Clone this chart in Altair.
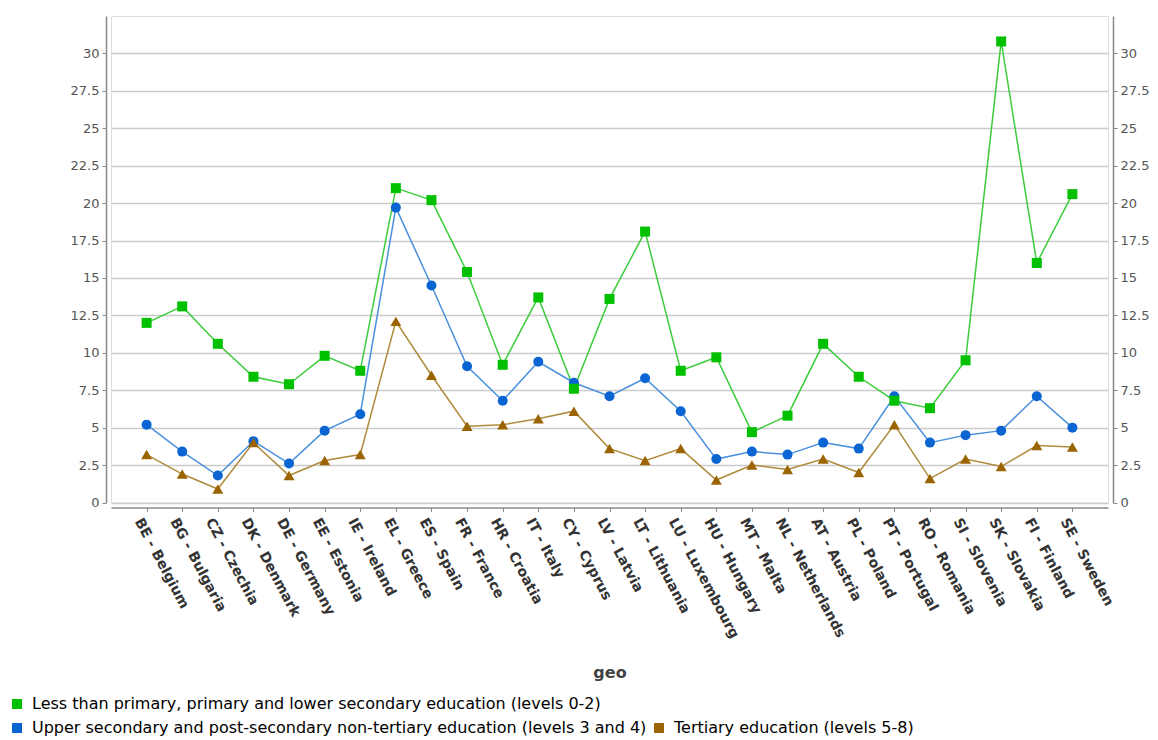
import altair as alt
import pandas as pd

countries = ["BE - Belgium", "BG - Bulgaria", "CZ - Czechia", "DK - Denmark", "DE - Germany",
             "EE - Estonia", "IE - Ireland", "EL - Greece", "ES - Spain", "FR - France",
             "HR - Croatia", "IT - Italy", "CY - Cyprus", "LV - Latvia", "LT - Lithuania",
             "LU - Luxembourg", "HU - Hungary", "MT - Malta", "NL - Netherlands", "AT - Austria",
             "PL - Poland", "PT - Portugal", "RO - Romania", "SI - Slovenia", "SK - Slovakia",
             "FI - Finland", "SE - Sweden"]

series_names = [
    "Less than primary, primary and lower secondary education (levels 0-2)",
    "Upper secondary and post-secondary non-tertiary education (levels 3 and 4)",
    "Tertiary education (levels 5-8)",
]

low = [12.0, 13.1, 10.6, 8.4, 7.9, 9.8, 8.8, 21.0, 20.2, 15.4, 9.2, 13.7, 7.6, 13.6, 18.1,
       8.8, 9.7, 4.7, 5.8, 10.6, 8.4, 6.8, 6.3, 9.5, 30.8, 16.0, 20.6]
mid = [5.2, 3.4, 1.8, 4.1, 2.6, 4.8, 5.9, 19.7, 14.5, 9.1, 6.8, 9.4, 8.0, 7.1, 8.3,
       6.1, 2.9, 3.4, 3.2, 4.0, 3.6, 7.1, 4.0, 4.5, 4.8, 7.1, 5.0]
high = [3.2, 1.9, 0.9, 4.0, 1.8, 2.8, 3.2, 12.1, 8.5, 5.1, 5.2, 5.6, 6.1, 3.6, 2.8,
        3.6, 1.5, 2.5, 2.2, 2.9, 2.0, 5.2, 1.6, 2.9, 2.4, 3.8, 3.7]

point_colors = ["#00c000", "#0a64d2", "#9a6400"]
line_colors = ["#3ccc3c", "#4a90dc", "#b08a3c"]
y_ticks = [0, 2.5, 5, 7.5, 10, 12.5, 15, 17.5, 20, 22.5, 25, 27.5, 30]

rows = []
for s, vals in zip(series_names, [low, mid, high]):
    for c, v in zip(countries, vals):
        rows.append({"geo": c, "series": s, "value": v})
df = pd.DataFrame(rows)

FONT = "DejaVu Sans"

x_enc = alt.X(
    "geo:N",
    sort=countries,
    scale=alt.Scale(type="point", padding=1.19),
    axis=alt.Axis(
        title="geo", titleFont=FONT, titleFontSize=16, titleFontWeight="bold",
        titleColor="#444444", titlePadding=24,
        labelAngle=62, labelAlign="left", labelBaseline="top", labelOffset=-3,
        labelFont=FONT, labelFontSize=14, labelFontWeight="bold", labelColor="#333333",
        labelLimit=400, labelOverlap=False, labelPadding=4,
        grid=False, offset=5, domainColor="#888888", domainWidth=1.5,
        tickColor="#888888", tickSize=4,
    ),
)

y_scale = alt.Scale(domain=[0, 32.5], nice=False, zero=True)

y_axis_common = dict(
    title=None, values=y_ticks, format=".1~f", offset=5,
    labelFont=FONT, labelFontSize=13, labelColor="#555555", labelPadding=3,
    domainColor="#888888", domainWidth=1.5, tickColor="#888888", tickSize=4,
)
y_left = alt.Y("value:Q", scale=y_scale,
               axis=alt.Axis(orient="left", grid=True, gridColor="#cccccc", gridWidth=1.5, **y_axis_common))
y_right = alt.Y("value:Q", scale=y_scale,
                axis=alt.Axis(orient="right", grid=False, **y_axis_common))
y_none = alt.Y("value:Q", scale=y_scale, axis=None)

legend_common = dict(
    orient="none", title=None, symbolType="square", symbolSize=100, symbolStrokeWidth=0,
    symbolOpacity=1,
    labelFont=FONT, labelFontSize=16, labelColor="#000000", labelLimit=900,
    labelOffset=7, padding=0, direction="horizontal", columnPadding=4,
)


def sel(names):
    return alt.FieldOneOfPredicate(field="series", oneOf=names)


# lines
lineA = alt.Chart(df).transform_filter(sel(series_names[:1])).mark_line(strokeWidth=1.5).encode(
    x=x_enc, y=y_left,
    stroke=alt.Stroke("series:N", scale=alt.Scale(domain=series_names[:1], range=line_colors[:1]), legend=None),
)
lineB = alt.Chart(df).transform_filter(sel(series_names[1:])).mark_line(strokeWidth=1.5).encode(
    x=x_enc, y=y_none,
    stroke=alt.Stroke("series:N", scale=alt.Scale(domain=series_names[1:], range=line_colors[1:]), legend=None),
)

# points
pointA = alt.Chart(df).transform_filter(sel(series_names[:1])).mark_point(
    shape="square", filled=True, size=100, opacity=1).encode(
    x=x_enc, y=y_none,
    color=alt.Color("series:N", scale=alt.Scale(domain=series_names[:1], range=point_colors[:1]),
                    legend=alt.Legend(legendX=-102, legendY=680, **legend_common)),
)
pointB1 = alt.Chart(df).transform_filter(sel(series_names[1:2])).mark_point(
    shape="circle", filled=True, size=100, opacity=1).encode(
    x=x_enc, y=y_none,
    color=alt.Color("series:N", scale=alt.Scale(domain=series_names[1:], range=point_colors[1:]),
                    legend=alt.Legend(legendX=-102, legendY=704, **legend_common)),
)
pointB2 = alt.Chart(df).transform_filter(sel(series_names[2:])).mark_point(
    shape="triangle-up", filled=True, size=120, opacity=1).encode(
    x=x_enc, y=y_none,
    color=alt.Color("series:N", scale=alt.Scale(domain=series_names[1:], range=point_colors[1:]),
                    legend=None),
)

rightAxis = alt.Chart(df).transform_filter(sel(series_names[:1])).mark_point(opacity=0).encode(
    x=x_enc, y=y_right)

chart = alt.layer(lineA, lineB, pointB1, pointB2, pointA, rightAxis).resolve_scale(
    color="independent", stroke="independent"
).resolve_legend(color="independent").resolve_axis(y="independent").properties(
    width=997, height=486.5,
    autosize=alt.AutoSizeParams(type="none"),
    padding={"left": 103, "top": 8, "right": 42, "bottom": 236},
).configure_view(stroke="#888888", strokeWidth=1.5).configure(background="white")

chart.save("out.html", embed_options={"renderer": "svg", "actions": False})
